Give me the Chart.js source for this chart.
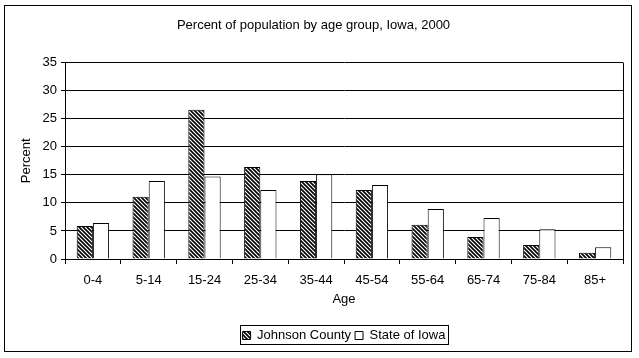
<!DOCTYPE html>
<html>
<head>
<meta charset="utf-8">
<script src="https://cdn.jsdelivr.net/npm/chart.js@4.4.1/dist/chart.umd.min.js"></script>
<style>
  html, body { margin: 0; padding: 0; background: #fff; }
  canvas { display: block; }
</style>
</head>
<body>
<canvas id="chart" width="639" height="358"></canvas>
<script>
const ageGroups = ['0-4', '5-14', '15-24', '25-34', '35-44', '45-54', '55-64', '65-74', '75-84', '85+']
const johnsonCounty = [5.9, 11.1, 26.6, 16.4, 13.9, 12.3, 6.1, 3.9, 2.5, 1.1]
const stateOfIowa = [6.4, 13.9, 14.7, 12.3, 15.1, 13.2, 8.9, 7.3, 5.3, 2.1]

// diagonal hatch fill, like the old excel pattern
const makeHatch = () => {
  const c = document.createElement('canvas')
  c.width = 4
  c.height = 4
  const g = c.getContext('2d')
  g.fillStyle = '#fff'
  g.fillRect(0, 0, 4, 4)
  g.strokeStyle = '#000'
  g.lineWidth = 1.6
  g.beginPath()
  g.moveTo(-1, -1); g.lineTo(5, 5)
  g.moveTo(-1, 3); g.lineTo(1, 5)
  g.moveTo(3, -1); g.lineTo(5, 1)
  g.stroke()
  return g.createPattern(c, 'repeat')
}

Chart.defaults.font.family = '"Liberation Sans", Arial, sans-serif'
Chart.defaults.font.size = 13
Chart.defaults.color = '#000'

// outer frame, right edge of the plot and the box round the legend
const framePlugin = {
  id: 'frames',
  afterDraw(chart) {
    const ctx = chart.ctx
    const area = chart.chartArea
    ctx.save()
    ctx.strokeStyle = '#000'
    ctx.lineWidth = 1
    ctx.strokeRect(4.5, 5.5, 627, 346)
    ctx.beginPath()
    ctx.moveTo(Math.round(area.right) + 0.5, area.top)
    ctx.lineTo(Math.round(area.right) + 0.5, area.bottom)
    ctx.stroke()
    const boxes = chart.legend.legendHitBoxes
    if (boxes && boxes.length) {
      let l = Infinity, r = -Infinity, t = Infinity, b = -Infinity
      boxes.forEach(h => {
        l = Math.min(l, h.left); r = Math.max(r, h.left + h.width)
        t = Math.min(t, h.top); b = Math.max(b, h.top + h.height)
      })
      ctx.strokeRect(Math.round(l) - 2.5, Math.round(t) - 3.5, Math.round(r - l) + 5, Math.round(b - t) + 6)
    }
    ctx.restore()
  }
}

new Chart(document.getElementById('chart'), {
  type: 'bar',
  data: {
    labels: ageGroups,
    datasets: [
      {
        label: 'Johnson County',
        data: johnsonCounty,
        backgroundColor: makeHatch(),
        borderColor: '#000',
        borderWidth: 1,
      },
      {
        label: 'State of Iowa',
        data: stateOfIowa,
        backgroundColor: '#fff',
        borderColor: '#000',
        borderWidth: 1,
      },
    ],
  },
  options: {
    responsive: false,
    animation: false,
    devicePixelRatio: 1,
    layout: { padding: { left: 4, right: 16, top: 0, bottom: 6 } },
    datasets: { bar: { categoryPercentage: 0.58, barPercentage: 1 } },
    scales: {
      x: {
        grid: { drawOnChartArea: false, drawTicks: true, tickLength: 5, color: '#000', offset: true },
        border: { color: '#000' },
        ticks: { padding: 9, maxRotation: 0 },
        title: { display: true, text: 'Age', padding: { top: 5, bottom: 18 } },
        afterFit(scale) { scale.height = 66 },
      },
      y: {
        min: 0,
        max: 35,
        ticks: { stepSize: 5, padding: 4 },
        grid: { color: '#000', tickLength: 4 },
        border: { color: '#000' },
        title: { display: true, text: 'Percent', padding: { top: 15, bottom: 0 } },
        afterFit(scale) { scale.width = 61 },
      },
    },
    plugins: {
      title: {
        display: true,
        text: 'Percent of population by age group, Iowa, 2000',
        font: { size: 13, weight: 'normal' },
        padding: { top: 18, bottom: 29 },
      },
      legend: {
        position: 'bottom',
        fullSize: false,
        labels: { boxWidth: 8, boxHeight: 8, padding: 4, color: '#000' },
      },
      tooltip: { enabled: false },
    },
  },
  plugins: [framePlugin],
})
</script>
</body>
</html>
